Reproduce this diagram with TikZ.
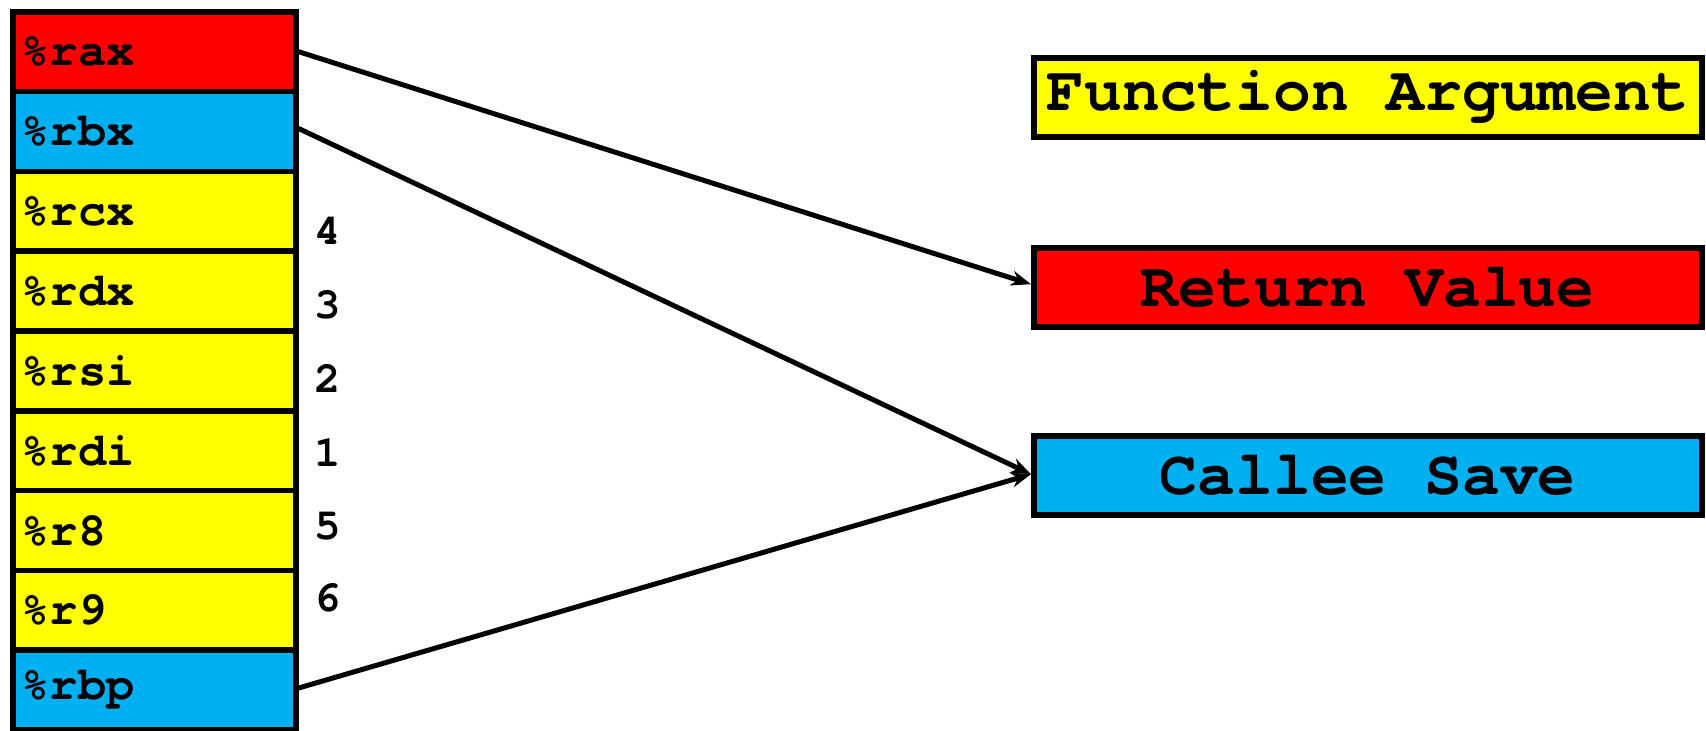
\documentclass[tikz,border=0pt]{standalone}
\usepackage{fontspec}
\newfontfamily\cour{TeX Gyre Cursor}
\usetikzlibrary{arrows.meta}
\definecolor{regred}{HTML}{FF0000}
\definecolor{regblue}{HTML}{00B0F0}
\definecolor{regyellow}{HTML}{FFFF00}
\begin{document}
\begin{tikzpicture}[x=1pt,y=-1pt,
  reg/.style={draw=black,line width=5.5pt,minimum width=283pt,minimum height=79.8pt,
    inner xsep=9pt,inner ysep=0pt,text width=265pt,align=left,anchor=north west,
    font=\cour\bfseries\fontsize{47}{50}\selectfont},
  legend/.style={draw=black,line width=5.5pt,minimum width=668pt,minimum height=79pt,
    inner sep=0pt,anchor=north west,font=\cour\bfseries\fontsize{63}{66}\selectfont},
  num/.style={anchor=west,inner sep=0pt,font=\cour\bfseries\fontsize{44}{46}\selectfont},
  conn/.style={line width=5pt,-{Stealth[length=20pt,width=15pt]}}]
\useasboundingbox (0,0) rectangle (1706,731);
\node[reg,fill=regred]    (rax) at (10,9)     {\%rax};
\node[reg,fill=regblue]   (rbx) at (10,88.8)  {\%rbx};
\node[reg,fill=regyellow] (rcx) at (10,168.6) {\%rcx};
\node[reg,fill=regyellow] (rdx) at (10,248.4) {\%rdx};
\node[reg,fill=regyellow] (rsi) at (10,328.2) {\%rsi};
\node[reg,fill=regyellow] (rdi) at (10,408)   {\%rdi};
\node[reg,fill=regyellow] (r8)  at (10,487.8) {\%r8};
\node[reg,fill=regyellow] (r9)  at (10,567.6) {\%r9};
\node[reg,fill=regblue]   (rbp) at (10,647.4) {\%rbp};
\node[num] (n4) at (314,231) {4};
\node[num] (n3) at (314,305) {3};
\node[num] (n2) at (314,378) {2};
\node[num] (n1) at (314,452) {1};
\node[num] (n5) at (314,526) {5};
\node[num] (n6) at (314,598) {6};
\node[legend,fill=regyellow] (fa) at (1031,55)  {Function Argument};
\node[legend,fill=regred]    (rv) at (1031,245) {Return Value};
\node[legend,fill=regblue]   (cs) at (1031,433) {Callee Save};
\draw[conn] (rax.east) -- ([yshift=3pt]rv.west);
\draw[conn] ([yshift=3pt]rbx.east) -- ([yshift=1pt]cs.west);
\draw[conn] ([yshift=2pt]rbp.east) -- ([yshift=1pt]cs.west);
\end{tikzpicture}
\end{document}
